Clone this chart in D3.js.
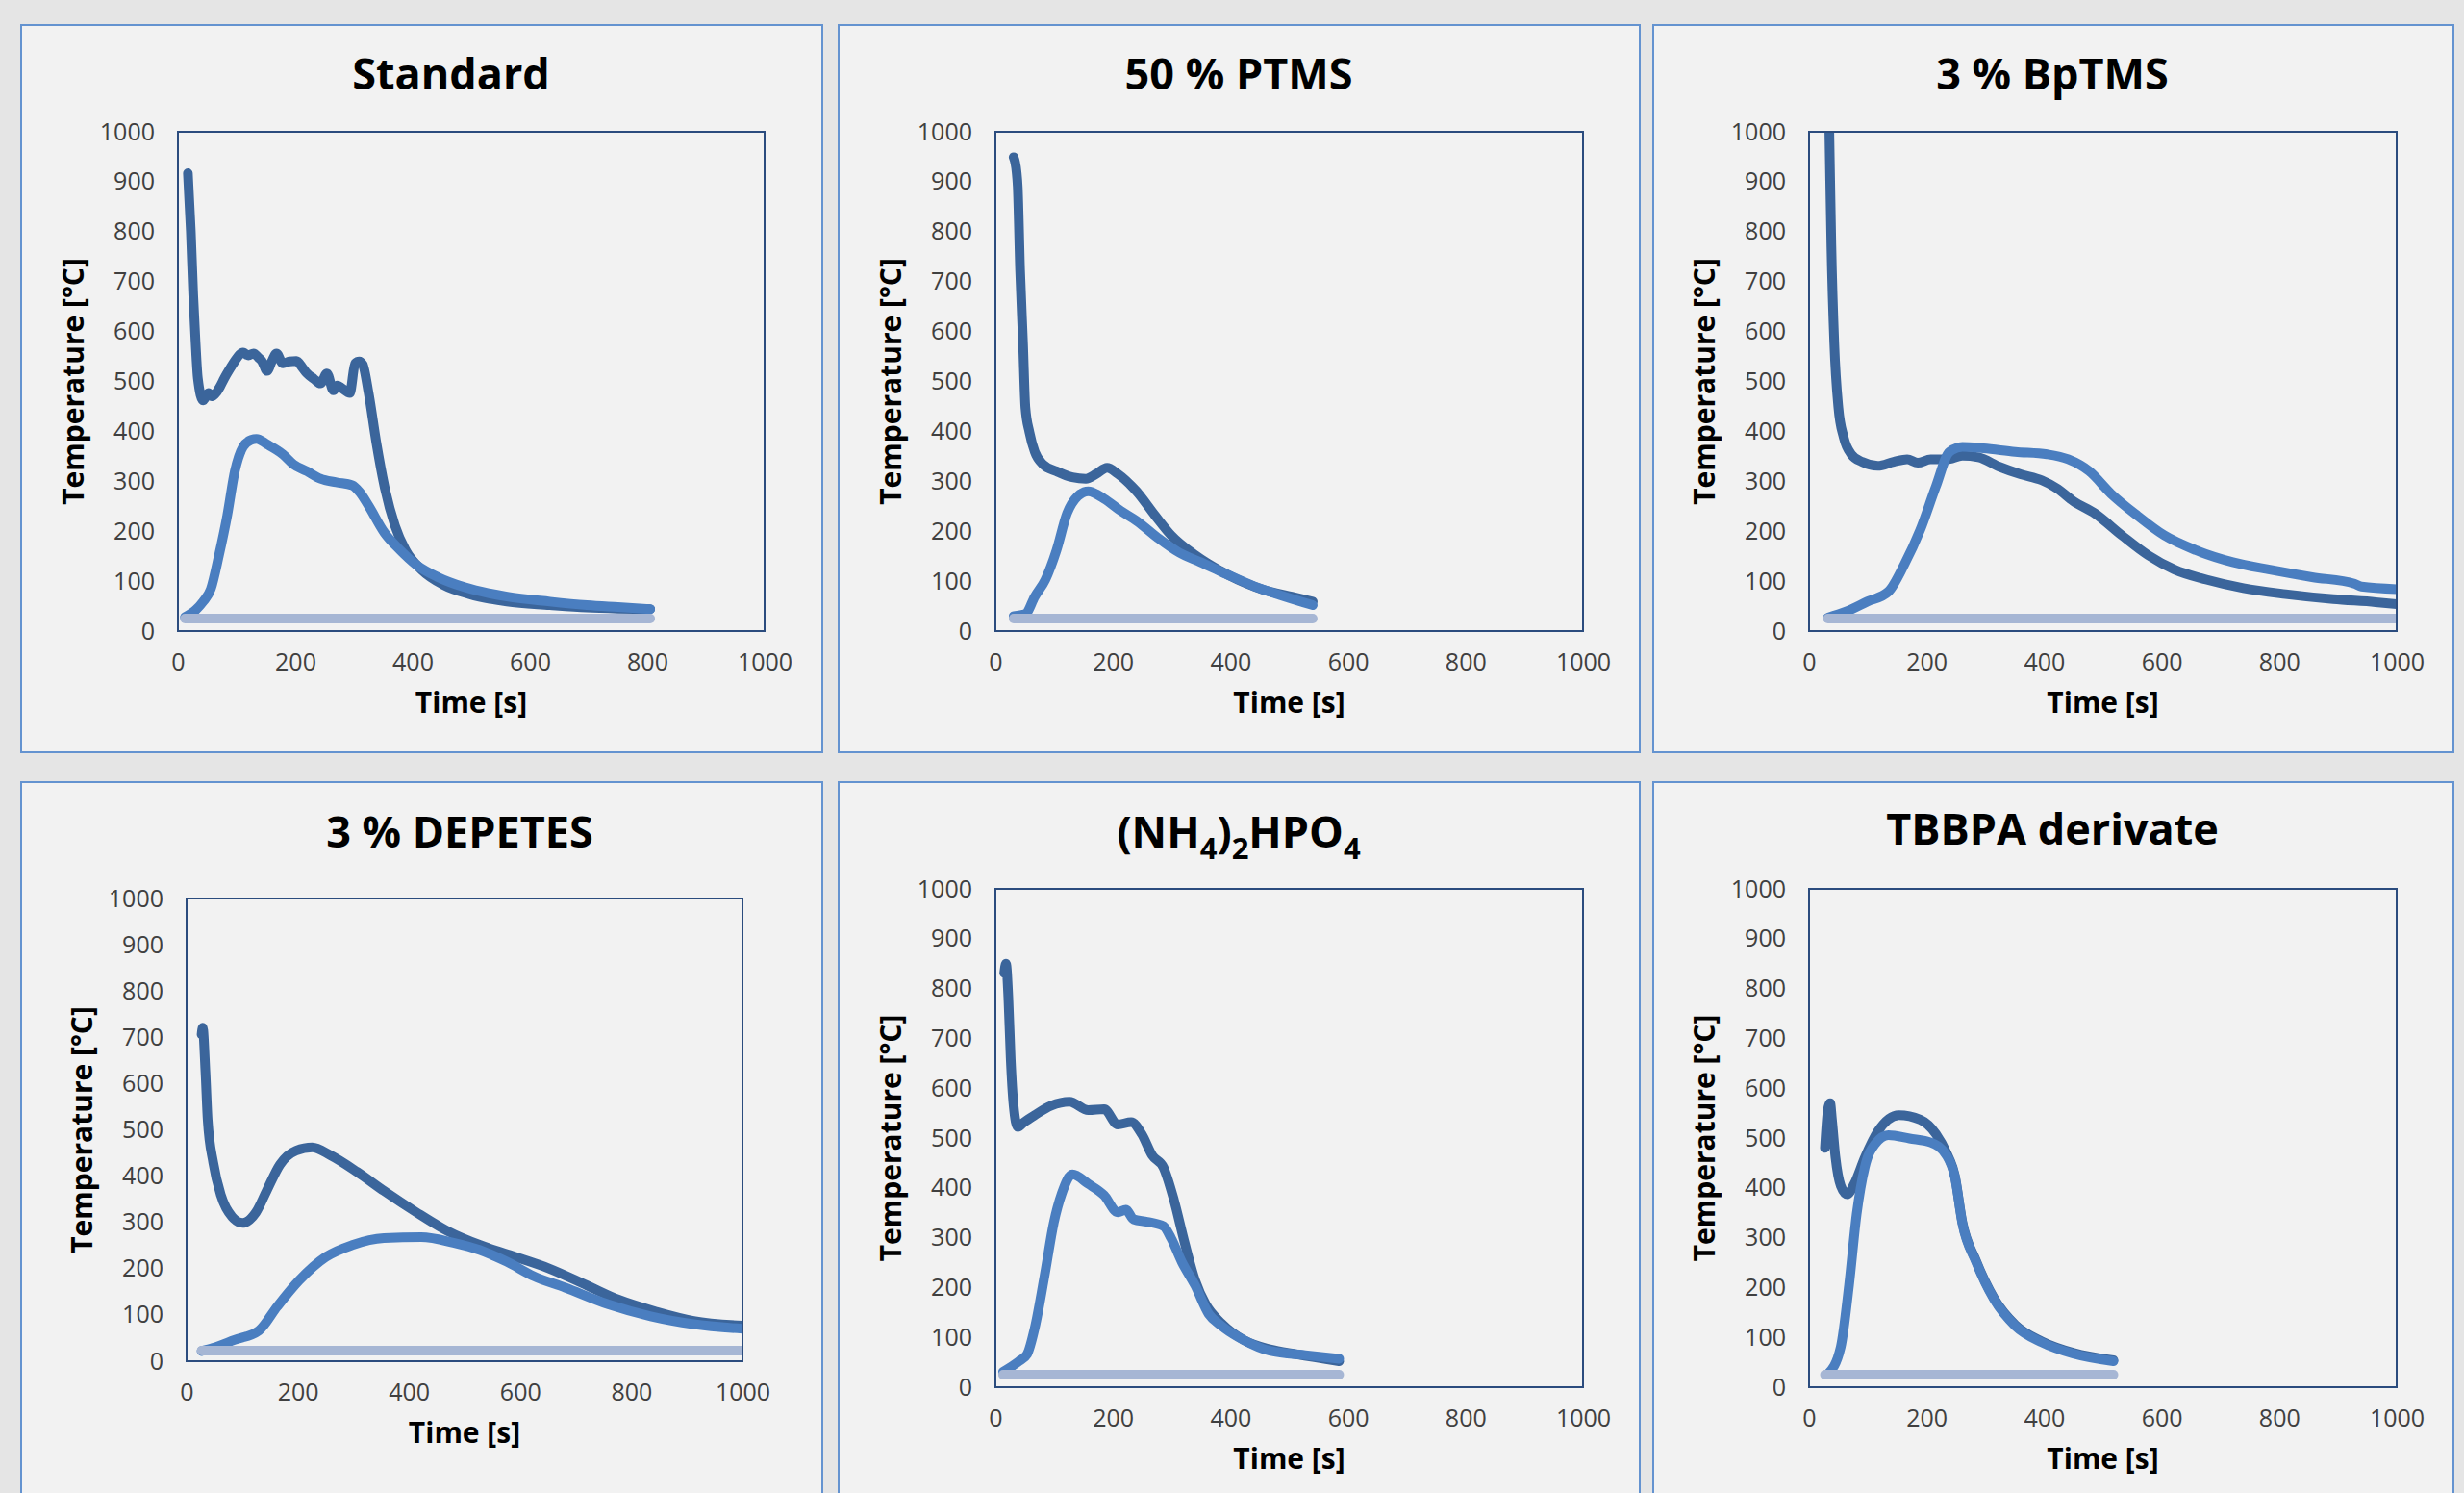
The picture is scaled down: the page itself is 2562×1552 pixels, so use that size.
<!DOCTYPE html>
<html>
<head>
<meta charset="utf-8">
<script src="https://cdn.jsdelivr.net/npm/d3@7"></script>
<style>
  html, body { margin: 0; padding: 0; background: #e5e5e5; overflow: hidden; }
  svg { display: block; }
</style>
</head>
<body>
<svg id="chart" width="2562" height="1552"></svg>
<script>
"use strict";

// ---- data: [time s, temperature °C] ----
const xTicks = [0, 200, 400, 600, 800, 1000];
const yTicks = [0, 100, 200, 300, 400, 500, 600, 700, 800, 900, 1000];

const standardDark = [[17,917],[22,800],[26,675],[30,580],[34,506],[43,462],[52,477],[58,470],[65,477],[72,490],[79,506],[90,528],[97,541],[111,558],[120,552],[129,556],[137,548],[143,541],[152,521],[160,540],[168,556],[179,536],[190,540],[202,541],[212,528],[220,516],[232,505],[243,496],[254,516],[265,482],[272,492],[279,487],[293,477],[302,536],[309,540],[315,534],[325,477],[338,379],[352,290],[370,211],[388,162],[415,123],[452,93],[497,74],[561,59],[634,52],[697,47],[750,45],[805,44]];
const standardMid = [[12,28],[30,42],[43,59],[56,84],[70,152],[84,231],[97,320],[111,369],[125,383],[134,385],[152,374],[179,354],[197,334],[220,320],[243,305],[270,298],[297,292],[310,278],[325,251],[352,197],[379,162],[406,133],[443,108],[488,88],[561,69],[634,59],[697,52],[750,48],[805,44]];
const standardAmb = [[12,25],[805,25]];

const ptmsDark = [[31,949],[36,920],[38,890],[42,723],[47,576],[51,448],[58,398],[67,359],[81,334],[104,320],[131,308],[154,305],[172,315],[190,327],[208,315],[240,280],[272,231],[299,192],[340,152],[395,113],[458,82],[504,69],[540,59]];
const ptmsMid = [[31,30],[51,34],[67,69],[85,103],[104,162],[122,236],[140,270],[158,280],[185,265],[213,241],[240,221],[276,187],[313,157],[349,138],[395,113],[440,90],[485,72],[540,52]];
const ptmsAmb = [[31,25],[540,25]];

const bptmsDark = [[33,1100],[36,900],[38,772],[43,575],[50,447],[59,388],[72,354],[90,339],[117,331],[144,339],[167,344],[185,337],[207,344],[234,344],[261,351],[288,348],[324,329],[360,314],[396,302],[423,285],[450,260],[486,236],[532,192],[577,152],[622,123],[676,103],[739,86],[811,74],[892,64],[964,58],[1000,54]];
const bptmsMid = [[32,27],[63,39],[99,59],[135,79],[162,133],[189,202],[216,290],[239,359],[261,369],[297,366],[351,359],[405,354],[441,344],[477,320],[514,275],[559,231],[604,192],[658,162],[721,138],[784,123],[856,108],[928,95],[940,89],[1000,84]];
const bptmsAmb = [[32,25],[1000,25]];

const depetesDark = [[27,706],[29,721],[34,624],[38,521],[48,429],[62,358],[82,312],[101,299],[125,322],[144,368],[168,425],[197,455],[226,462],[259,445],[307,409],[355,368],[413,322],[470,281],[528,251],[585,228],[653,200],[720,164],[777,133],[845,107],[912,87],[1000,77]];
const depetesMid = [[27,22],[48,29],[86,46],[130,66],[163,118],[202,174],[250,225],[298,251],[355,266],[422,268],[480,256],[528,240],[576,215],[624,184],[681,159],[758,123],[835,97],[912,80],[1000,70]];
const depetesAmb = [[27,23],[1000,23]];

const dapDark = [[15,831],[18,850],[22,783],[26,660],[31,565],[38,522],[49,532],[67,546],[95,565],[126,573],[158,556],[185,558],[208,527],[231,532],[249,508],[267,465],[286,441],[304,375],[322,290],[340,214],[358,166],[385,128],[422,95],[467,76],[513,66],[585,52]];
const dapMid = [[13,31],[40,52],[54,66],[67,119],[85,233],[99,328],[113,389],[131,427],[158,408],[185,385],[208,351],[222,356],[235,337],[258,332],[286,323],[299,299],[317,252],[340,204],[363,147],[385,123],[422,95],[467,73],[531,64],[585,57]];
const dapAmb = [[13,25],[585,25]];

const tbbpaDark = [[27,480],[32,556],[36,570],[39,537],[45,461],[54,404],[65,387],[77,408],[95,461],[117,513],[153,546],[189,537],[216,508],[234,470],[248,425],[261,330],[284,254],[315,178],[351,125],[396,92],[450,69],[518,54]];
const tbbpaMid = [[32,26],[54,81],[68,204],[81,347],[95,442],[113,489],[135,506],[171,499],[207,491],[234,465],[248,423],[261,328],[284,252],[315,176],[351,123],[396,90],[450,67],[518,52]];
const tbbpaAmb = [[27,25],[518,25]];

const titles = ["Standard", "50 % PTMS", "3 % BpTMS", "3 % DEPETES", "(NH4)2HPO4", "TBBPA derivate"];
const seriesSets = [
  [standardDark, standardMid, standardAmb],
  [ptmsDark, ptmsMid, ptmsAmb],
  [bptmsDark, bptmsMid, bptmsAmb],
  [depetesDark, depetesMid, depetesAmb],
  [dapDark, dapMid, dapAmb],
  [tbbpaDark, tbbpaMid, tbbpaAmb]
];

// ---- layout (pixels) ----
const panels = [
  { box: [22, 26, 855, 782],   plot: [185, 137, 795, 656],   titleX: 469,  titleY: 93 },
  { box: [872, 26, 1705, 782], plot: [1035, 137, 1646, 656], titleX: 1288, titleY: 93 },
  { box: [1719, 26, 2551, 782], plot: [1881, 137, 2492, 656], titleX: 2134, titleY: 93 },
  { box: [22, 813, 855, 1600], plot: [194, 934, 772, 1415],  titleX: 478,  titleY: 881 },
  { box: [872, 813, 1705, 1600], plot: [1035, 924, 1646, 1442], titleX: 1288, titleY: 881 },
  { box: [1719, 813, 2551, 1600], plot: [1881, 924, 2492, 1442], titleX: 2134, titleY: 878 }
];

const COLORS = ["#3b659b", "#4a7ec0", "#a6b6d4"];
const FONT = "'Open Sans', 'Noto Sans', sans-serif";

const svg = d3.select("#chart");

panels.forEach((p, i) => {
  const [bx0, by0, bx1, by1] = p.box;
  const [px0, py0, px1, py1] = p.plot;
  const g = svg.append("g");

  g.append("rect")
    .attr("x", bx0).attr("y", by0)
    .attr("width", bx1 - bx0).attr("height", by1 - by0)
    .attr("fill", "#f2f2f2")
    .attr("stroke", "#6493d0")
    .attr("stroke-width", 2);

  // title, with subscripts for the chemical formula
  const title = g.append("text")
    .attr("x", p.titleX).attr("y", p.titleY)
    .attr("text-anchor", "middle")
    .attr("font-family", FONT)
    .attr("font-size", 45)
    .attr("font-weight", "700")
    .attr("fill", "#000");
  if (titles[i] === "(NH4)2HPO4") {
    const parts = [["(NH", false], ["4", true], [")", false], ["2", true], ["HPO", false], ["4", true]];
    let shifted = false;
    parts.forEach(([t, sub]) => {
      let dy = 0;
      if (sub && !shifted) dy = 12;
      if (!sub && shifted) dy = -12;
      shifted = sub;
      title.append("tspan")
        .attr("font-size", sub ? 31 : 45)
        .attr("dy", dy)
        .text(t);
    });
  } else {
    title.text(titles[i]);
  }

  const x = d3.scaleLinear().domain([0, 1000]).range([px0, px1]);
  const y = d3.scaleLinear().domain([0, 1000]).range([py1, py0]);

  const clipId = "clip" + i;
  g.append("clipPath").attr("id", clipId)
    .append("rect")
    .attr("x", px0).attr("y", py0)
    .attr("width", px1 - px0).attr("height", py1 - py0);

  const line = d3.line()
    .x((d) => x(d[0]))
    .y((d) => y(d[1]))
    .curve(d3.curveMonotoneX);

  const lines = g.append("g").attr("clip-path", `url(#${clipId})`);
  seriesSets[i].forEach((s, k) => {
    lines.append("path")
      .datum(s)
      .attr("d", line)
      .attr("fill", "none")
      .attr("stroke", COLORS[k])
      .attr("stroke-width", 10)
      .attr("stroke-linecap", "round")
      .attr("stroke-linejoin", "round");
  });

  g.append("rect")
    .attr("x", px0).attr("y", py0)
    .attr("width", px1 - px0).attr("height", py1 - py0)
    .attr("fill", "none")
    .attr("stroke", "#2b4c7e")
    .attr("stroke-width", 2);

  // axes
  const fmt = d3.format("d");
  const yAxis = g.append("g")
    .attr("transform", `translate(${px0},0)`)
    .call(d3.axisLeft(y).tickValues(yTicks).tickFormat(fmt).tickSize(0).tickPadding(24));
  const xAxis = g.append("g")
    .attr("transform", `translate(0,${py1})`)
    .call(d3.axisBottom(x).tickValues(xTicks).tickFormat(fmt).tickSize(0).tickPadding(23));
  [xAxis, yAxis].forEach((a) => {
    a.select(".domain").remove();
    a.selectAll("text")
      .attr("font-family", FONT)
      .attr("font-size", 25)
      .attr("fill", "#404040");
  });

  g.append("text")
    .attr("x", (px0 + px1) / 2)
    .attr("y", py1 + 85)
    .attr("text-anchor", "middle")
    .attr("font-family", FONT)
    .attr("font-size", 30)
    .attr("font-weight", "700")
    .attr("fill", "#000")
    .text("Time [s]");

  g.append("text")
    .attr("transform", `translate(${px0 - 98},${(py0 + py1) / 2}) rotate(-90)`)
    .attr("text-anchor", "middle")
    .attr("font-family", FONT)
    .attr("font-size", 30)
    .attr("font-weight", "700")
    .attr("fill", "#000")
    .text("Temperature [°C]");
});
</script>
</body>
</html>
